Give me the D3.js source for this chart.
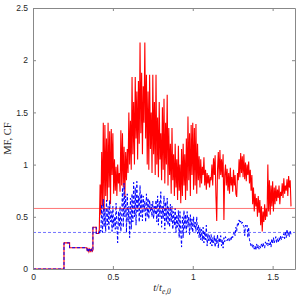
<!DOCTYPE html>
<html>
<head>
<meta charset="utf-8">
<script src="https://cdn.jsdelivr.net/npm/d3@7"></script>
<style>
    body { margin: 0; background: #fff; }
    #vis svg { display: block; }
    .axis text { fill: #262626; font-family: "Liberation Sans", Arial, sans-serif; font-size: 8.5px; }
    .axis path, .axis line { stroke: #888; }
</style>
</head>
<body>
<div id="vis"></div>
<script>

// start of the run: both signals are the same steps
let stepT = [0, 0.194, 0.194, 0.229, 0.229, 0.337, 0.34, 0.345, 0.35, 0.355, 0.36, 0.365, 0.37, 0.375, 0.375, 0.396, 0.396, 0.41];
let stepV = [0, 0, 0.25, 0.25, 0.204, 0.204, 0.17, 0.19, 0.165, 0.19, 0.17, 0.19, 0.168, 0.18, 0.4, 0.4, 0.34, 0.34];

// sampled part, first sample at t0, spacing dt
let t0 = 0.415,
    dt = 0.005;

// red, solid
let mfValues = [
    0.38, 0.81, 0.52, 1.12, 0.6, 1.4, 0.55, 1.38, 0.7, 1.25,
    0.65, 1.4, 0.78, 1.32, 0.62, 1.34, 0.9, 1.3, 0.72, 1.05,
    0.75, 0.98, 0.7, 1.0, 0.82, 0.92, 0.74, 1.33, 0.8, 1.3,
    0.78, 1.17, 0.68, 1.12, 0.85, 1.15, 0.92, 1.5, 1.0, 1.42,
    0.95, 1.84, 1.1, 1.6, 1.0, 1.84, 1.25, 1.7, 1.05, 1.8,
    1.2, 2.17, 1.3, 1.88, 1.1, 1.75, 1.4, 2.17, 1.25, 1.86,
    1.0, 1.7, 0.95, 1.86, 1.15, 1.5, 0.92, 1.86, 1.1, 1.6,
    0.9, 1.86, 1.0, 1.45, 0.88, 1.6, 1.05, 1.3, 0.85, 1.55,
    0.95, 1.63, 0.82, 1.4, 1.0, 1.67, 0.8, 1.35, 0.9, 1.2,
    0.72, 1.35, 0.85, 1.1, 0.7, 1.2, 0.78, 1.05, 0.66, 1.18,
    0.75, 1.0, 0.63, 1.15, 0.7, 1.2, 0.8, 1.1, 0.66, 1.25,
    0.75, 1.46, 0.85, 1.3, 0.7, 1.38, 0.9, 1.4, 0.76, 1.35,
    0.8, 1.39, 0.72, 1.2, 0.85, 1.08, 0.78, 1.05, 0.82, 0.98,
    0.9, 1.07, 0.8, 0.95, 0.76, 0.92, 0.82, 0.9, 0.78, 0.88,
    0.85, 1.0, 0.8, 1.06, 0.9, 1.09, 0.7, 0.46, 0.95, 1.12,
    0.86, 1.14, 0.9, 1.05, 0.88, 1.1, 0.47, 0.9, 1.0, 0.8,
    0.96, 0.75, 0.92, 0.72, 0.97, 0.8, 0.88, 0.74, 0.95, 0.8,
    0.9, 0.72, 0.69, 0.92, 0.85, 1.05, 0.88, 1.11, 0.92, 1.08,
    0.88, 1.1, 0.86, 1.02, 0.84, 1.0, 0.9, 1.03, 0.82, 0.95,
    0.75, 0.9, 0.62, 0.78, 0.55, 0.72, 0.6, 0.68, 0.5, 0.7,
    0.54, 0.66, 0.42, 0.6, 0.36, 0.55, 0.45, 0.62, 0.47, 0.58,
    0.5, 1.0, 0.55, 0.85, 0.52, 0.8, 0.6, 0.84, 0.55, 0.78,
    0.62, 0.8, 0.65, 0.76, 0.68, 0.8, 0.62, 0.74, 0.7, 0.82,
    0.68, 0.87, 0.72, 0.8, 0.75, 0.86, 0.7, 0.89, 0.78, 0.85,
    0.6
];

// blue, dashed
let cfValues = [
    0.34, 0.38, 0.36, 0.62, 0.35, 0.67, 0.4, 0.58, 0.36, 0.66,
    0.42, 0.6, 0.37, 0.66, 0.45, 0.55, 0.36, 0.6, 0.4, 0.5,
    0.38, 0.63, 0.42, 0.25, 0.55, 0.4, 0.6, 0.36, 0.5, 0.78,
    0.4, 0.82, 0.5, 0.7, 0.35, 0.72, 0.45, 0.6, 0.3, 0.68,
    0.38, 0.72, 0.45, 0.83, 0.5, 0.78, 0.42, 0.84, 0.55, 0.7,
    0.45, 0.8, 0.5, 0.72, 0.46, 0.7, 0.55, 0.65, 0.45, 0.72,
    0.5, 0.68, 0.48, 0.66, 0.55, 0.62, 0.5, 0.65, 0.48, 0.6,
    0.52, 0.66, 0.45, 0.7, 0.42, 0.65, 0.5, 0.74, 0.4, 0.6,
    0.48, 0.7, 0.38, 0.64, 0.45, 0.68, 0.42, 0.6, 0.4, 0.62,
    0.45, 0.6, 0.38, 0.55, 0.42, 0.58, 0.35, 0.52, 0.4, 0.56,
    0.3, 0.55, 0.35, 0.21, 0.5, 0.3, 0.56, 0.38, 0.52, 0.35,
    0.55, 0.4, 0.5, 0.33, 0.52, 0.38, 0.48, 0.35, 0.5, 0.4,
    0.45, 0.36, 0.5, 0.34, 0.42, 0.3, 0.4, 0.28, 0.38, 0.27,
    0.4, 0.25, 0.36, 0.28, 0.42, 0.22, 0.34, 0.27, 0.32, 0.24,
    0.33, 0.22, 0.3, 0.25, 0.32, 0.21, 0.3, 0.24, 0.33, 0.2,
    0.3, 0.25, 0.32, 0.22, 0.28, 0.2, 0.3, 0.26, 0.31, 0.28,
    0.27, 0.3, 0.29, 0.26, 0.3, 0.28, 0.32, 0.3, 0.34, 0.36,
    0.32, 0.4, 0.36, 0.44, 0.42, 0.47, 0.44, 0.46, 0.43, 0.45,
    0.42, 0.41, 0.32, 0.42, 0.4, 0.42, 0.3, 0.4, 0.28, 0.25,
    0.22, 0.24, 0.2, 0.23, 0.19, 0.22, 0.18, 0.24, 0.2, 0.23,
    0.19, 0.22, 0.2, 0.24, 0.21, 0.25, 0.22, 0.2, 0.26, 0.23,
    0.25, 0.22, 0.28, 0.23, 0.26, 0.21, 0.29, 0.24, 0.3, 0.25,
    0.28, 0.31, 0.25, 0.29, 0.26, 0.3, 0.27, 0.32, 0.28, 0.31,
    0.3, 0.34, 0.29, 0.36, 0.3, 0.38, 0.32, 0.35, 0.31, 0.37,
    0.33
];

// time means
let mfMean = 0.58,
    cfMean = 0.35;

let xTicks = [0, 0.5, 1, 1.5],
    xTickLabels = ['0', '0.5', '1', '1.5'];
let yTicks = [0, 0.5, 1, 1.5, 2, 2.5],
    yTickLabels = ['0', '0.5', '1', '1.5', '2', '2.5'];

let margin = {top: 8, right: 9, bottom: 27, left: 33};

let width = 304 - margin.left - margin.right,
    height = 296 - margin.top - margin.bottom;

// Scaling
let xScale = d3.scaleLinear()
    .domain([0, 1.64])
    .range([0, width]);

let yScale = d3.scaleLinear()
    .domain([0, 2.5])
    .range([height, 0]);

//SVG
let svg = d3.select('#vis')
    .append('svg')
    .attr('width', 304)
    .attr('height', 296);

let g = svg.append('g')
    .attr('transform', 'translate(' + margin.left + ',' + margin.top + ')');

// points
let stepPoints = stepT.map((t, i) => [t, stepV[i]]);
let mfPoints = stepPoints.concat(mfValues.map((v, i) => [t0 + i * dt, v]));
let cfPoints = stepPoints.concat(cfValues.map((v, i) => [t0 + i * dt, v]));

let line = d3.line()
    .x(d => xScale(d[0]))
    .y(d => yScale(d[1]));

g.append('path')
    .datum(mfPoints)
    .attr('d', line)
    .attr('fill', 'none')
    .attr('stroke', '#ff0000')
    .attr('stroke-width', 1.1);

g.append('path')
    .datum(cfPoints)
    .attr('d', line)
    .attr('fill', 'none')
    .attr('stroke', '#0000ff')
    .attr('stroke-width', 1)
    .attr('stroke-dasharray', '3,2');

// mean lines
g.append('line')
    .attr('x1', xScale(0))
    .attr('x2', xScale(1.64))
    .attr('y1', yScale(mfMean))
    .attr('y2', yScale(mfMean))
    .attr('stroke', '#ff0000')
    .attr('stroke-opacity', 0.55)
    .attr('stroke-width', 1);

g.append('line')
    .attr('x1', xScale(0))
    .attr('x2', xScale(1.64))
    .attr('y1', yScale(cfMean))
    .attr('y2', yScale(cfMean))
    .attr('stroke', '#0000ff')
    .attr('stroke-opacity', 0.55)
    .attr('stroke-width', 1)
    .attr('stroke-dasharray', '3,2');

// Axis, ticks pointing inward on all four sides
g.append('g')
    .attr('class', 'axis')
    .attr('transform', 'translate(0,' + height + ')')
    .call(d3.axisBottom(xScale)
        .tickValues(xTicks)
        .tickFormat((d, i) => xTickLabels[i])
        .tickSizeInner(-3)
        .tickSizeOuter(0)
        .tickPadding(5));

g.append('g')
    .attr('class', 'axis')
    .call(d3.axisTop(xScale)
        .tickValues(xTicks)
        .tickFormat('')
        .tickSizeInner(-3)
        .tickSizeOuter(0));

g.append('g')
    .attr('class', 'axis')
    .call(d3.axisLeft(yScale)
        .tickValues(yTicks)
        .tickFormat((d, i) => yTickLabels[i])
        .tickSizeInner(-3)
        .tickSizeOuter(0)
        .tickPadding(5));

g.append('g')
    .attr('class', 'axis')
    .attr('transform', 'translate(' + width + ',0)')
    .call(d3.axisRight(yScale)
        .tickValues(yTicks)
        .tickFormat('')
        .tickSizeInner(-3)
        .tickSizeOuter(0));

// Labels
let xLabel = svg.append('text')
    .attr('x', margin.left + width / 2 - 2)
    .attr('y', 291)
    .attr('text-anchor', 'middle')
    .attr('font-family', '"Liberation Serif", "Times New Roman", serif')
    .attr('font-size', 10.5)
    .attr('fill', '#262626');

xLabel.append('tspan').attr('font-style', 'italic').text('t');
xLabel.append('tspan').text('/');
xLabel.append('tspan').attr('font-style', 'italic').text('t');
xLabel.append('tspan')
    .attr('font-style', 'italic')
    .attr('font-size', 7.5)
    .attr('dy', 2.5)
    .text('e,0');

svg.append('text')
    .attr('transform', 'translate(11,' + (margin.top + height / 2) + ') rotate(-90)')
    .attr('text-anchor', 'middle')
    .attr('font-family', '"Liberation Serif", "Times New Roman", serif')
    .attr('font-size', 10.5)
    .attr('fill', '#262626')
    .text('MF, CF');

</script>
</body>
</html>
